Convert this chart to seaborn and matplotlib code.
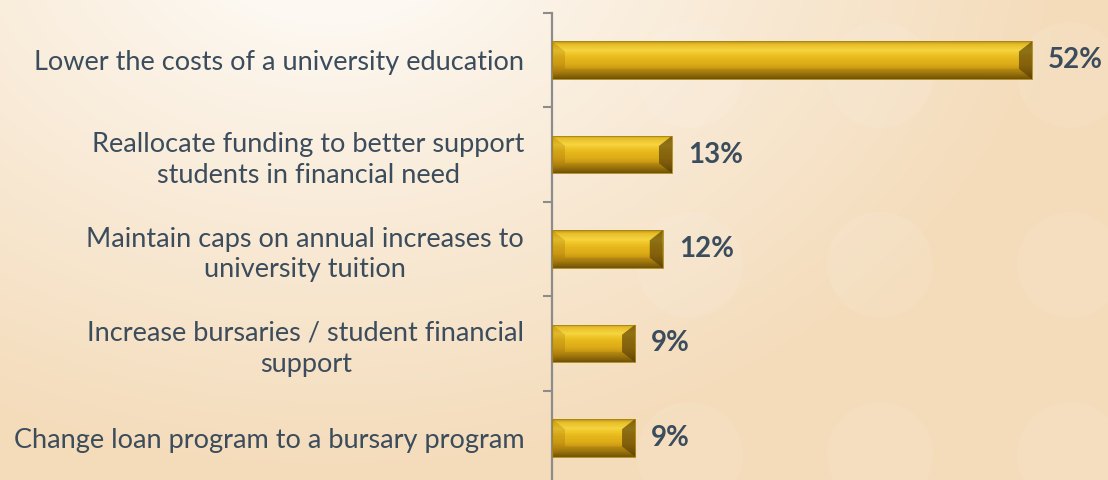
import numpy as np
import pandas as pd
import matplotlib
matplotlib.use("Agg")
import matplotlib.pyplot as plt
from matplotlib.colors import LinearSegmentedColormap, to_rgb
from matplotlib.patches import Polygon, Circle
import seaborn as sns

categories = [
    "Lower the costs of a university education",
    "Reallocate funding to better support\nstudents in financial need",
    "Maintain caps on annual increases to\nuniversity tuition",
    "Increase bursaries / student financial\nsupport",
    "Change loan program to a bursary program",
]
values = [52, 13, 12, 9, 9]
value_labels = ["52%", "13%", "12%", "9%", "9%"]

sns.set_theme(style="white")
plt.rcParams["font.family"] = ["Lato", "DejaVu Sans"]

TEXT = "#3b4c5c"
W, H = 1108, 480
fig = plt.figure(figsize=(W / 100, H / 100), dpi=100)

# ---- background (decorative gradient + bokeh circles)
bg = fig.add_axes([0, 0, 1, 1], zorder=-10)
bg.set_axis_off()
yy, xx = np.mgrid[0:H, 0:W]
d = np.sqrt(((xx - 330) / 1.0) ** 2 + ((yy + 80) / 0.75) ** 2)
t = np.clip((d - 140) / 620, 0, 1) ** 0.9
light = np.array(to_rgb("#fdf8f1"))
dark = np.array(to_rgb("#f4dbb9"))
img = light[None, None, :] * (1 - t[..., None]) + dark[None, None, :] * t[..., None]
bg.imshow(img, extent=(0, W, H, 0), aspect="auto", interpolation="bilinear")
for cx in (690, 880, 1070):
    for cy in (75, 265, 455):
        bg.add_patch(Circle((cx, cy), 53, facecolor="white", alpha=0.09, lw=0))
bg.set_xlim(0, W)
bg.set_ylim(H, 0)

# ---- main axes
ax = fig.add_axes([552 / W, -5 / H, (W - 552) / W, 472 / H])
ax.patch.set_alpha(0)
df = pd.DataFrame({"category": categories, "value": values})
sns.barplot(data=df, y="category", x="value", orient="h", width=0.4,
            color="#e0b01c", ax=ax, saturation=1)

xmax = (W - 552) / 9.23
ax.set_xlim(0, xmax)
ax.set_ylim(len(categories) - 0.5, -0.5)

grad = LinearSegmentedColormap.from_list("gold", [
    (0.00, "#b28a0c"), (0.08, "#e6ba1c"), (0.25, "#f7d336"),
    (0.42, "#e8ba1e"), (0.62, "#dcaa17"), (0.82, "#b68810"), (1.00, "#7a5a08")])
g = np.linspace(0, 1, 64)[:, None]

for p in list(ax.patches):
    x0, y0, w, h = p.get_x(), p.get_y(), p.get_width(), p.get_height()
    x1 = x0 + w
    p.set_facecolor("none")
    p.set_edgecolor("#a8860f")
    p.set_linewidth(0.6)
    im = ax.imshow(g, cmap=grad, extent=(x0, x1, y0 + h, y0), aspect="auto",
                   interpolation="bilinear", zorder=2)
    im.set_clip_path(p)
    dx = 13 / 9.23
    dy = h * 0.27
    ax.add_patch(Polygon([(x0, y0), (x0 + dx, y0 + dy), (x0 + dx, y0 + h - dy), (x0, y0 + h)],
                         closed=True, facecolor="#7a4a00", alpha=0.18, lw=0, zorder=3))
    ax.add_patch(Polygon([(x1, y0), (x1 - dx, y0 + dy), (x1 - dx, y0 + h - dy), (x1, y0 + h)],
                         closed=True, facecolor="#4a3204", alpha=0.6, lw=0, zorder=3))
    ax.add_patch(Polygon([(x0, y0 + h), (x1, y0 + h), (x1 - dx, y0 + h - dy), (x0 + dx, y0 + h - dy)],
                         closed=True, facecolor="#3a2800", alpha=0.12, lw=0, zorder=3))
    ax.add_patch(Polygon([(x0, y0), (x1, y0), (x1 - dx, y0 + dy), (x0 + dx, y0 + dy)],
                         closed=True, facecolor="white", alpha=0.06, lw=0, zorder=3))
    p.set_zorder(4)

ax.set_xlim(0, xmax)
ax.set_ylim(len(categories) - 0.5, -0.5)

for i, (v, lab) in enumerate(zip(values, value_labels)):
    ax.annotate(lab, xy=(v, i), xytext=(11.5, 0), textcoords="offset points",
                ha="left", va="center", fontsize=20, fontweight="bold", color=TEXT)

for s in ("top", "right", "bottom"):
    ax.spines[s].set_visible(False)
ax.spines["left"].set_color("#8c8c8c")
ax.spines["left"].set_linewidth(1.6)
ax.set_xticks([])
ax.set_xlabel("")
ax.set_ylabel("")
ax.set_yticks(np.arange(-0.5, len(categories) + 0.5, 1), minor=True)
ax.tick_params(axis="y", which="minor", length=6.5, width=1.5, color="#8c8c8c", left=True)
ax.tick_params(axis="y", which="major", length=0, pad=20, labelsize=19.5, labelcolor=TEXT)
for lbl in ax.get_yticklabels():
    lbl.set_multialignment("center")
    lbl.set_linespacing(1.3)

fig.savefig("out.png", dpi=100)
